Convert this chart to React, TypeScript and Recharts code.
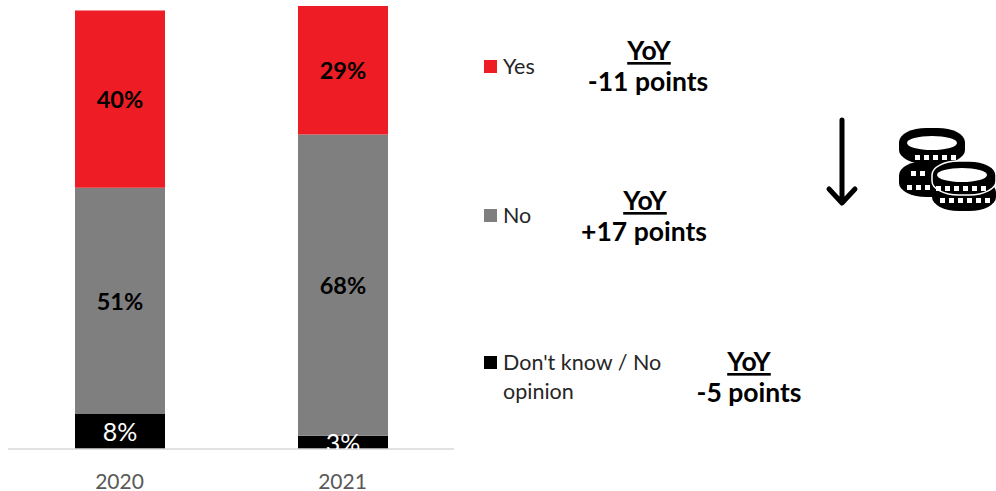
import { BarChart, Bar, XAxis, YAxis, LabelList } from 'recharts';

const YEARS = ['2020', '2021'];
const DONT_KNOW = [8, 3];
const NO = [51, 68];
const YES = [40, 29];

const rows = YEARS.map((year, i) => ({ year, dontKnow: DONT_KNOW[i], no: NO[i], yes: YES[i] }));

const FONT = 'Lato, "Noto Sans", sans-serif';
const RED = '#ee1c25';
const GREY = '#7f7f7f';

const LEGEND_ROWS = [
  { color: RED, lines: ['Yes'], top: 60 },
  { color: GREY, lines: ['No'], top: 209 },
  { color: '#000000', lines: ["Don't know / No", 'opinion'], top: 356 },
];

const YOY_NOTES = [
  { text: '-11 points', headX: 649, headY: 60, bodyX: 648, bodyY: 91 },
  { text: '+17 points', headX: 645, headY: 210, bodyX: 644, bodyY: 241 },
  { text: '-5 points', headX: 749, headY: 371, bodyX: 749, bodyY: 402 },
];

const COIN_DASHES = [
  { x: 915, y: 155, n: 5 },
  { x: 911, y: 171, n: 2 },
  { x: 907, y: 185, n: 3 },
  { x: 936, y: 186, n: 6 },
  { x: 940, y: 198, n: 6 },
];

// percent text, kept inside the plot so low segments get cut at the baseline
const segmentLabel = (fill: string, weight: number, size: number, dy: number) => (props: any) => {
  const { x, y, width, height, value } = props;
  return (
    <text
      x={x + width / 2}
      y={y + height / 2}
      dy={dy}
      textAnchor="middle"
      fontFamily={FONT}
      fontSize={size}
      fontWeight={weight}
      fill={fill}
      clipPath="url(#plotClip)"
    >
      {value}%
    </text>
  );
};

function LegendRows() {
  return (
    <div style={{ position: 'absolute', left: 0, top: 0, fontFamily: FONT, fontSize: 21.5, color: '#262626' }}>
      {LEGEND_ROWS.map((row) => (
        <div key={row.lines[0]}>
          <div style={{ position: 'absolute', left: 484, top: row.top, width: 13, height: 13, background: row.color }} />
          {row.lines.map((line, i) => (
            <div key={line} style={{ position: 'absolute', left: 503, top: row.top - 7 + i * 29, lineHeight: '27px', whiteSpace: 'nowrap' }}>
              {line}
            </div>
          ))}
        </div>
      ))}
    </div>
  );
}

function CoinBody({ x, y, w, h, outline }: { x: number; y: number; w: number; h: number; outline?: boolean }) {
  return <rect x={x} y={y} width={w} height={h} rx={w / 2.4} ry={14} fill="#000" stroke={outline ? '#fff' : 'none'} strokeWidth={1.5} />;
}

function Notes() {
  return (
    <svg width={996} height={491} style={{ position: 'absolute', left: 0, top: 0 }}>
      {YOY_NOTES.map((n) => (
        <g key={n.text} fontFamily={FONT} fontSize={26.5} fontWeight={700} fill="#000" textAnchor="middle">
          <text x={n.headX} y={n.headY} textDecoration="underline">YoY</text>
          <text x={n.bodyX} y={n.bodyY}>{n.text}</text>
        </g>
      ))}
      <path d="M842 120V202M829 189L842 203L855 189" fill="none" stroke="#000" strokeWidth={5} strokeLinecap="round" strokeLinejoin="round" />
      <CoinBody x={899} y={161} w={66} h={36} />
      <CoinBody x={899} y={128} w={66} h={36} />
      <ellipse cx={932} cy={143} rx={25} ry={7} fill="#fff" />
      <CoinBody x={932} y={178} w={64} h={33} />
      <CoinBody x={932} y={161} w={64} h={34} outline />
      <ellipse cx={962} cy={175} rx={25} ry={7} fill="#fff" />
      {COIN_DASHES.map((d) =>
        Array.from({ length: d.n }).map((_, i) => (
          <rect key={`${d.y}-${i}`} x={d.x + i * 9} y={d.y} width={5} height={5} fill="#fff" />
        )),
      )}
    </svg>
  );
}

export default function App() {
  return (
    <div style={{ position: 'fixed', left: 0, top: 0, width: 996, height: 491, overflow: 'hidden', background: '#fff' }}>
      <BarChart
        width={996}
        height={491}
        data={rows}
        margin={{ top: 6, right: 542, bottom: 0, left: 8 }}
        barCategoryGap={0}
      >
        <defs>
          <clipPath id="plotClip">
            <rect x={0} y={0} width={996} height={449} />
          </clipPath>
        </defs>
        <YAxis hide domain={[0, 100]} />
        <XAxis
          dataKey="year"
          height={42}
          tickLine={false}
          axisLine={{ stroke: '#d9d9d9', strokeWidth: 1.5 }}
          tick={{ fontFamily: FONT, fontSize: 21, fill: '#595959' }}
          tickMargin={19}
        />
        <Bar dataKey="dontKnow" name="Don't know / No opinion" stackId="a" barSize={90} fill="#000000" isAnimationActive={false}>
          <LabelList dataKey="dontKnow" content={segmentLabel('#ffffff', 400, 25, 10)} />
        </Bar>
        <Bar dataKey="no" name="No" stackId="a" barSize={90} fill={GREY} isAnimationActive={false}>
          <LabelList dataKey="no" content={segmentLabel('#000000', 700, 23.5, 9)} />
        </Bar>
        <Bar dataKey="yes" name="Yes" stackId="a" barSize={90} fill={RED} isAnimationActive={false}>
          <LabelList dataKey="yes" content={segmentLabel('#000000', 700, 23.5, 9)} />
        </Bar>
      </BarChart>
      <LegendRows />
      <Notes />
    </div>
  );
}
